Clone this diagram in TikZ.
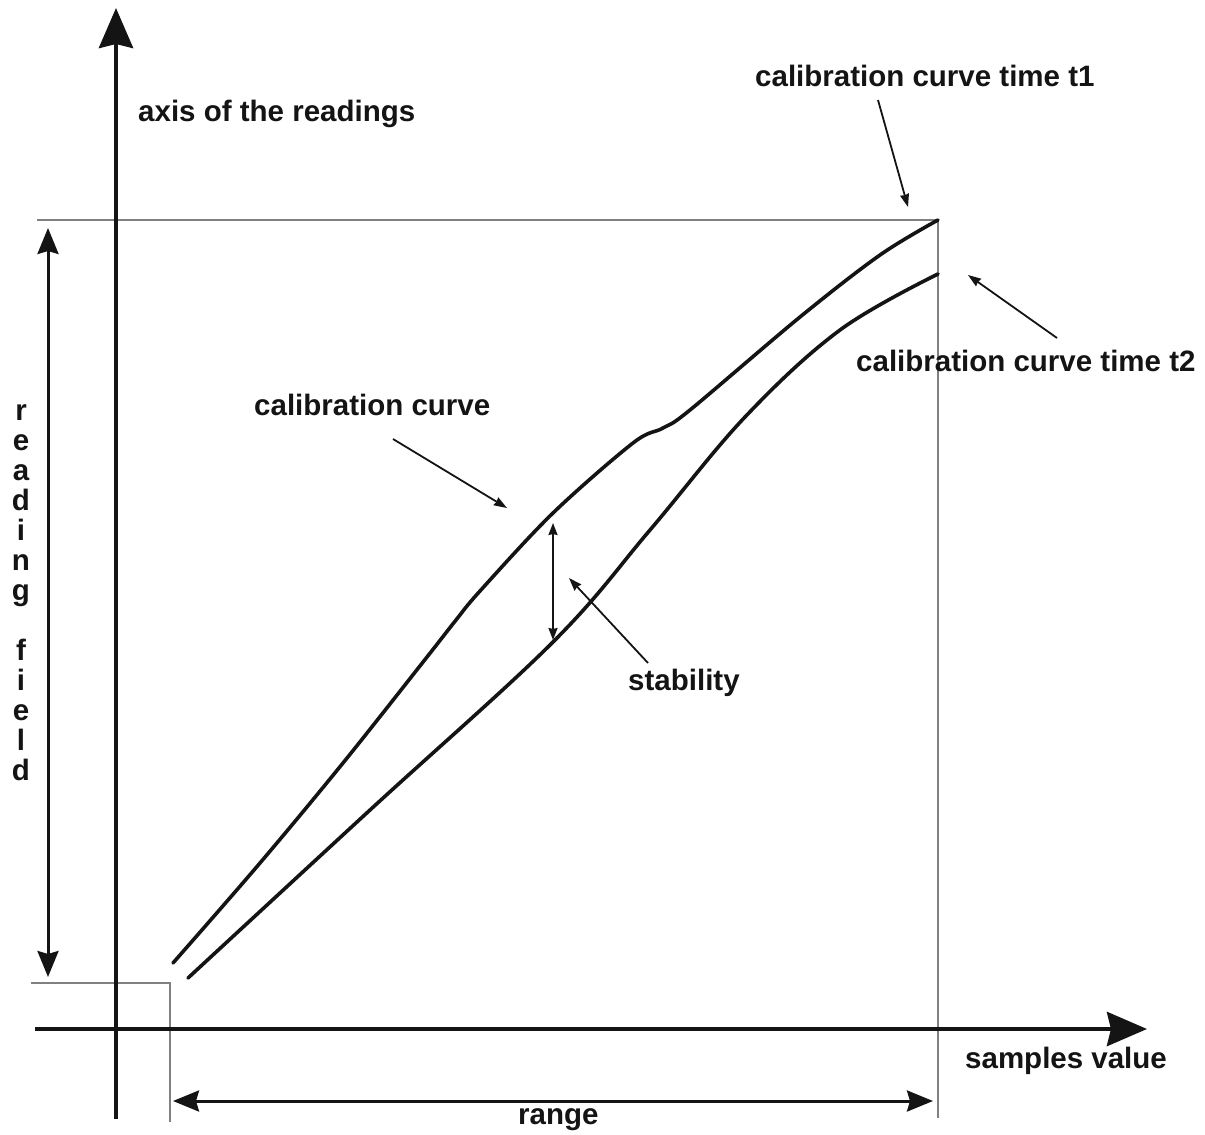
\documentclass[tikz,border=0pt]{standalone}
\usepackage{fontspec}
\setmainfont{Liberation Sans}
\usetikzlibrary{arrows.meta}
\begin{document}
\begin{tikzpicture}[x=1pt,y=-1pt,
  lbl/.style={font=\bfseries\fontsize{29.5}{30}\selectfont, text=black!92, inner sep=0pt, anchor=base west},
  vlbl/.style={font=\bfseries\fontsize{29.5}{30}\selectfont, text=black!92, inner sep=0pt, anchor=base},
  axisline/.style={line width=4.5pt, draw=black!92, -{Stealth[length=40pt,width=34pt,inset=4pt]}},
  guide/.style={line width=1.8pt, draw=black!50},
  curveline/.style={line width=3.6pt, draw=black!92, line cap=round},
  spanarrow/.style={line width=3pt, draw=black!92, {Stealth[length=26pt,width=21pt,inset=3pt]}-{Stealth[length=26pt,width=21pt,inset=3pt]}},
  stabarrow/.style={line width=1.8pt, draw=black!92, {Stealth[length=12pt,width=9pt,inset=1pt]}-{Stealth[length=12pt,width=9pt,inset=1pt]}},
  pointer/.style={line width=1.8pt, draw=black!92, -{Stealth[length=13pt,width=9pt,inset=1pt]}},
]
\fill[white] (0,0) rectangle (1205,1135);
\useasboundingbox (0,0) rectangle (1205,1135);

% coordinates
\coordinate (yb) at (116,1119);
\coordinate (yt) at (116,8);
\coordinate (xl) at (35,1029);
\coordinate (xr) at (1147,1029);
\coordinate (tl) at (37,220);
\coordinate (tr) at (938,220);
\coordinate (br) at (938,1118);
\coordinate (sl) at (31,983);
\coordinate (sc) at (170,983);
\coordinate (sb) at (170,1122);
\coordinate (rft) at (48,228);
\coordinate (rfb) at (48,977);
\coordinate (rgl) at (173,1101);
\coordinate (rgr) at (933,1101);
\coordinate (stt) at (553,523);
\coordinate (stb) at (553,640);
\coordinate (ps1) at (648,663);
\coordinate (pe1) at (569,578);
\coordinate (ps2) at (393,439);
\coordinate (pe2) at (507,508);
\coordinate (ps3) at (878,100);
\coordinate (pe3) at (908,207);
\coordinate (ps4) at (1057,338);
\coordinate (pe4) at (968,275);

% guide lines
\draw[guide] (tl) -- (tr) -- (br);
\draw[guide] (sl) -- (sc) -- (sb);

% axes
\draw[axisline] (yb) -- (yt);
\draw[axisline] (xl) -- (xr);

% spans
\draw[spanarrow] (rft) -- (rfb);
\draw[spanarrow] (rgl) -- (rgr);
\draw[stabarrow] (stt) -- (stb);

% curves
\draw[curveline] plot[smooth, tension=0.55] coordinates {(173,963) (260,863) (343,763) (427,657) (456,620) (480,591) (553,513) (633,443) (663,428) (690,410) (800,317) (880,255) (938,220)};
\draw[curveline] plot[smooth, tension=0.6] coordinates {(188,978) (370,810) (553,642) (650,530) (745,417) (840,330) (938,274)};

% pointers
\draw[pointer] (ps1) -- (pe1);
\draw[pointer] (ps2) -- (pe2);
\draw[pointer] (ps3) -- (pe3);
\draw[pointer] (ps4) -- (pe4);

% labels
\node[lbl] (axlab) at (138,121) {axis of the readings};
\node[lbl] (t1lab) at (755,86) {calibration curve time t1};
\node[lbl] (t2lab) at (856,371) {calibration curve time t2};
\node[lbl] (svlab) at (965,1068) {samples value};
\node[lbl] (cclab) at (254,415) {calibration curve};
\node[lbl] (stlab) at (628,690) {stability};
\node[lbl] (rglab) at (518,1124) {range};

\foreach \ch [count=\i from 0] in {r,e,a,d,i,n,g}
  \node[vlbl] (rfa\i) at (21,420+30*\i) {\ch};
\foreach \ch [count=\i from 0] in {f,i,e,l,d}
  \node[vlbl] (rfb\i) at (21,660+30*\i) {\ch};
\end{tikzpicture}
\end{document}
